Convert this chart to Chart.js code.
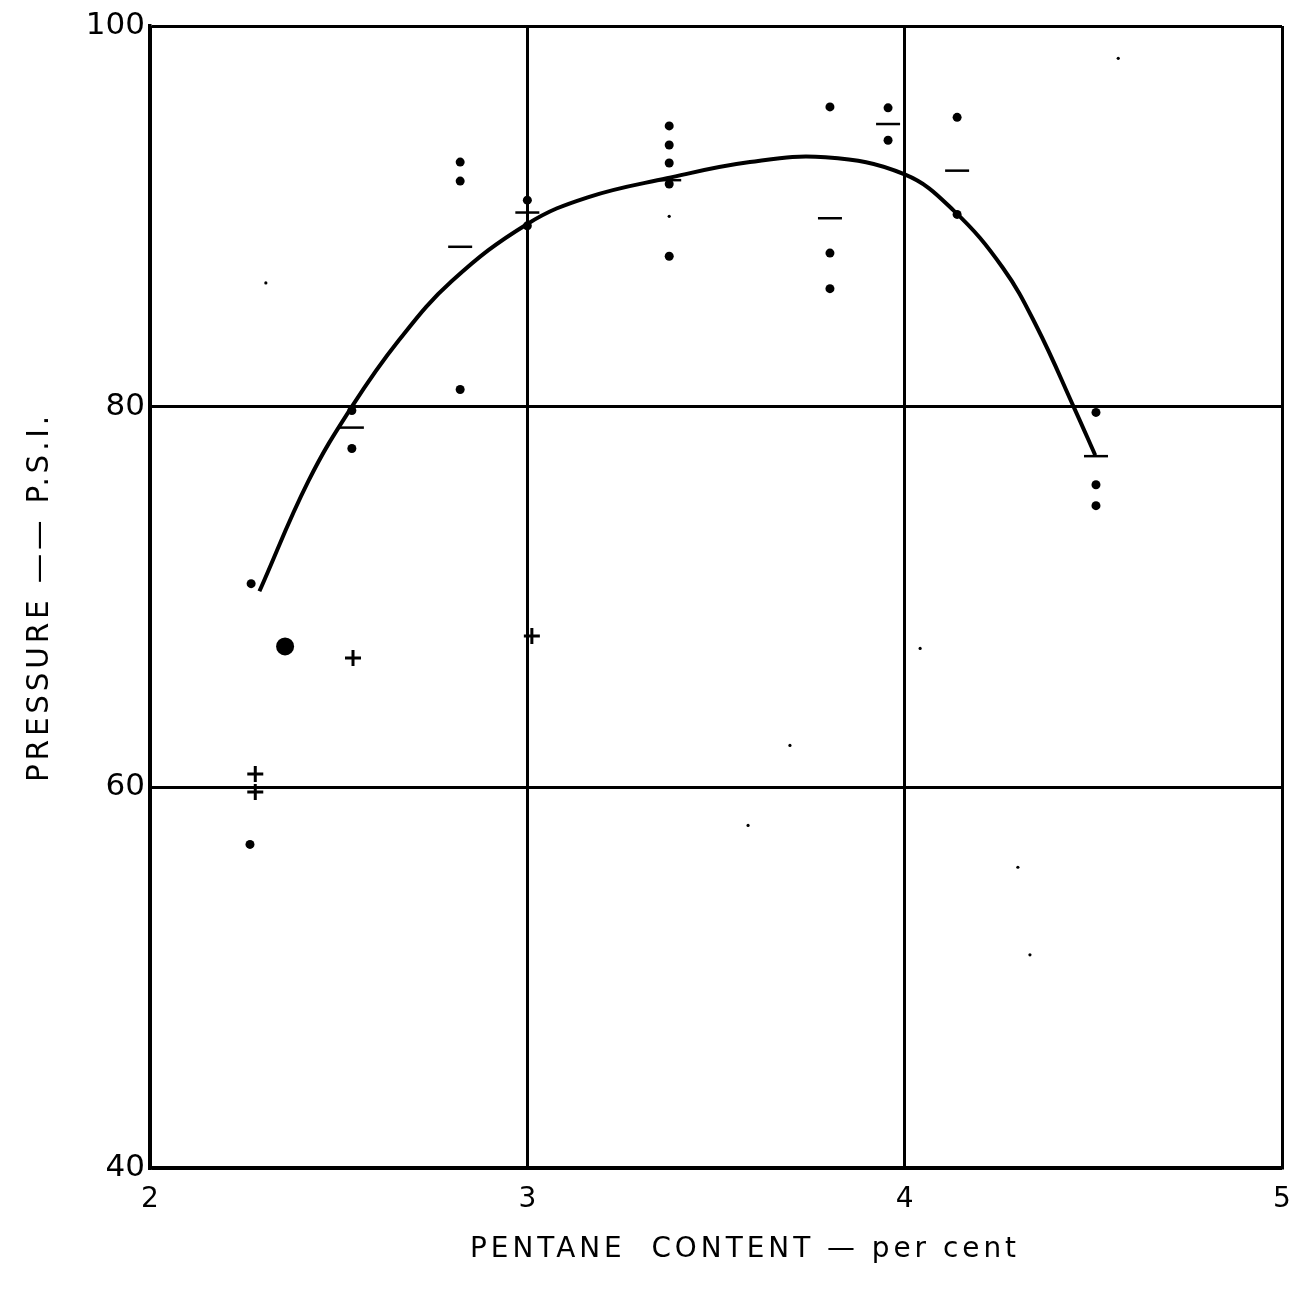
<!DOCTYPE html>
<html>
<head>
<meta charset="utf-8">
<script src="https://cdn.jsdelivr.net/npm/chart.js@4"></script>
<style>
  body { margin: 0; background: #fff; }
  #wrap { width: 1301px; height: 1292px; }
</style>
</head>
<body>
<div id="wrap"><canvas id="pentaneChart" width="1301" height="1292"></canvas></div>
<script>
// smoothed curve drawn through the data
const curveX = [2.29, 2.42, 2.535, 2.66, 2.80, 3.0, 3.16, 3.37, 3.59, 3.79, 4.0, 4.13, 4.26, 4.35, 4.45, 4.505];
const curveY = [70.3, 76.1, 80.0, 83.5, 86.6, 89.6, 91.0, 92.0, 92.85, 93.1, 92.2, 90.3, 87.3, 84.2, 79.9, 77.45];

// individual readings (dots)
const dotX = [2.268, 2.265, 2.535, 2.535, 2.822, 2.822, 2.822, 3.0, 3.0, 3.376, 3.376, 3.376, 3.376, 3.376, 3.802, 3.802, 3.802, 3.956, 3.956, 4.139, 4.139, 4.507, 4.507, 4.507];
const dotY = [70.7, 57.0, 79.8, 77.8, 92.85, 91.85, 80.9, 90.85, 89.5, 94.75, 93.75, 92.8, 91.7, 87.9, 95.75, 88.07, 86.2, 95.7, 94.0, 95.2, 90.1, 79.7, 75.9, 74.8];

// mean values (short dashes)
const dashX = [2.535, 2.822, 3.0, 3.376, 3.802, 3.956, 4.139, 4.507];
const dashY = [78.9, 88.4, 90.2, 91.9, 89.9, 94.85, 92.4, 77.4];

// crosses
const crossX = [2.279, 2.279, 2.538, 3.012];
const crossY = [60.7, 59.75, 66.8, 67.95];

// smudge and stray specks on the sheet
const blobX = [2.358];
const blobY = [67.4];
const speckX = [2.307, 4.041, 3.696, 3.585, 4.300, 4.332, 4.566, 3.376];
const speckY = [86.5, 67.3, 62.2, 58.0, 55.8, 51.2, 98.3, 90.0];

const xTicks = [2, 3, 4, 5];
const yTicks = [40, 60, 80, 100];

const xTitle = 'PENTANE  CONTENT — per cent';
const yTitle = 'PRESSURE —— P.S.I.';

const pts = (xs, ys) => xs.map((x, i) => ({ x, y: ys[i] }));

function drawFitted(ctx, text, cx, cy, width, angle, font) {
  ctx.save();
  ctx.font = font;
  ctx.letterSpacing = '4px';
  ctx.textAlign = 'center';
  ctx.textBaseline = 'middle';
  ctx.fillStyle = '#000';
  const w = ctx.measureText(text).width;
  ctx.translate(cx, cy);
  ctx.rotate(angle);
  ctx.scale(width / w, 1);
  ctx.fillText(text, 0, 0);
  ctx.restore();
}

const titlePlugin = {
  id: 'handTitles',
  afterDraw(chart) {
    const a = chart.chartArea;
    const ctx = chart.ctx;
    drawFitted(ctx, yTitle, 40, (a.top + a.bottom) / 2, 370, -Math.PI / 2, '31px "DejaVu Sans"');
    drawFitted(ctx, xTitle, (a.left + a.right) / 2 + 29, a.bottom + 82, 550, 0, '28px "DejaVu Sans"');
  }
};

new Chart(document.getElementById('pentaneChart'), {
  type: 'scatter',
  data: {
    datasets: [
      {
        label: 'curve',
        data: pts(curveX, curveY),
        showLine: true,
        borderColor: '#000',
        borderWidth: 4,
        pointRadius: 0,
        tension: 0.4
      },
      {
        label: 'readings',
        data: pts(dotX, dotY),
        pointStyle: 'circle',
        pointRadius: 4.5,
        backgroundColor: '#000',
        borderWidth: 0
      },
      {
        label: 'means',
        data: pts(dashX, dashY),
        pointStyle: 'line',
        pointRadius: 12,
        borderColor: '#000',
        borderWidth: 2.5
      },
      {
        label: 'crosses',
        data: pts(crossX, crossY),
        pointStyle: 'cross',
        pointRadius: 8,
        borderColor: '#000',
        borderWidth: 3
      },
      {
        label: 'blob',
        data: pts(blobX, blobY),
        pointStyle: 'circle',
        pointRadius: 9,
        backgroundColor: '#000',
        borderWidth: 0
      },
      {
        label: 'specks',
        data: pts(speckX, speckY),
        pointStyle: 'circle',
        pointRadius: 1.6,
        backgroundColor: '#000',
        borderWidth: 0
      }
    ]
  },
  options: {
    responsive: false,
    animation: false,
    layout: { padding: { top: 26, right: 19, left: 0, bottom: 0 } },
    plugins: {
      legend: { display: false },
      tooltip: { enabled: false }
    },
    scales: {
      x: {
        type: 'linear',
        min: 2,
        max: 5,
        afterBuildTicks: (s) => { s.ticks = xTicks.map((v) => ({ value: v })); },
        afterFit: (s) => { s.height = 124; s.paddingRight = 0; s.paddingLeft = 0; },
        ticks: {
          color: '#000',
          padding: 15,
          font: { family: 'DejaVu Sans', size: 28 },
          maxRotation: 0
        },
        grid: { color: '#000', lineWidth: 3, drawTicks: false },
        border: { color: '#000', width: 3.5 }
      },
      y: {
        type: 'linear',
        min: 40,
        max: 100,
        afterBuildTicks: (s) => { s.ticks = yTicks.map((v) => ({ value: v })); },
        afterFit: (s) => { s.width = 150; s.paddingTop = 0; s.paddingBottom = 0; },
        ticks: {
          color: '#000',
          padding: 5,
          font: { family: 'DejaVu Sans', size: 31 }
        },
        grid: { color: '#000', lineWidth: 3, drawTicks: false },
        border: { color: '#000', width: 3.5 }
      }
    }
  },
  plugins: [titlePlugin]
});
</script>
</body>
</html>
